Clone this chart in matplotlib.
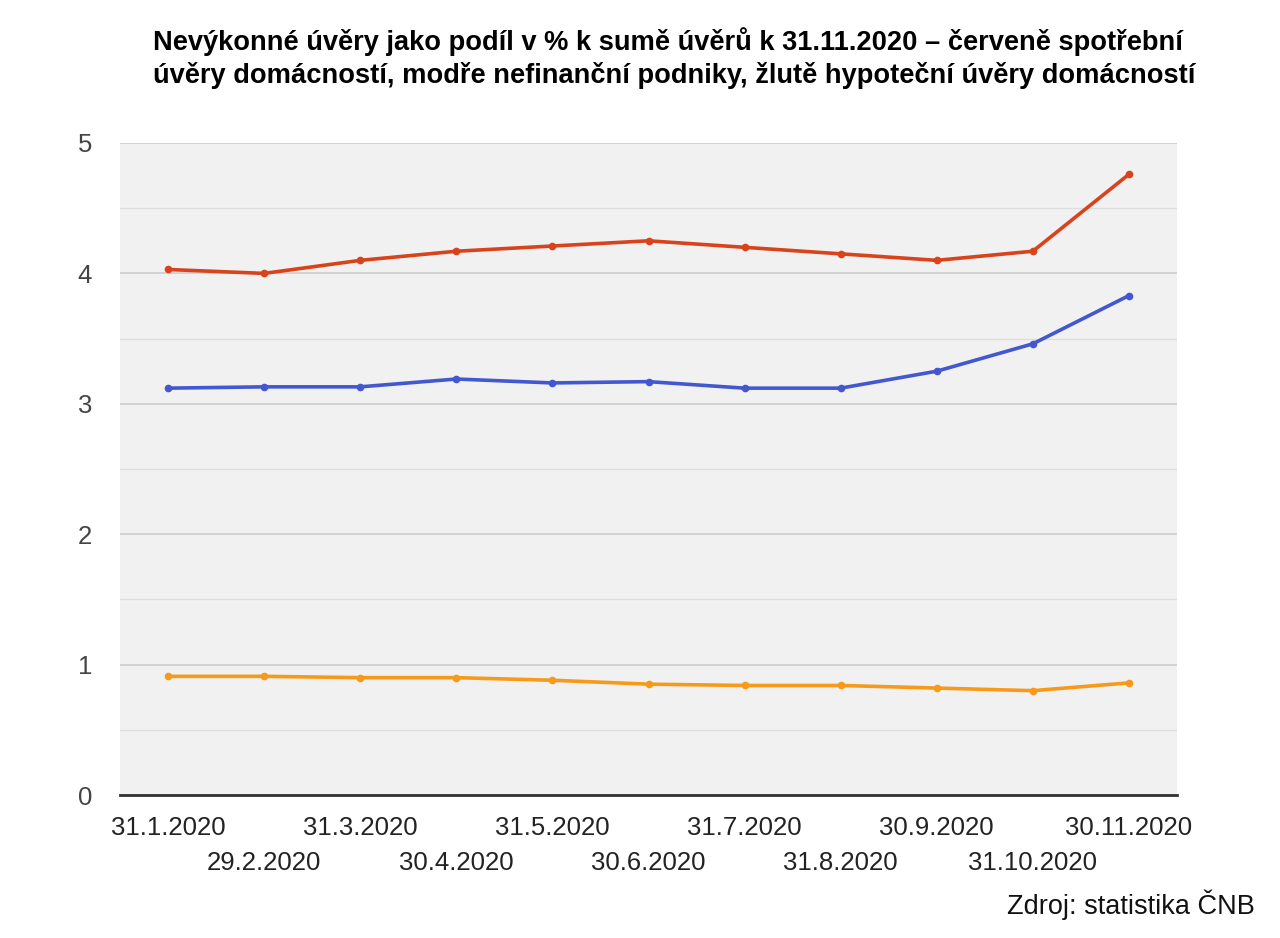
import matplotlib
matplotlib.use("Agg")
import matplotlib.pyplot as plt
from matplotlib.ticker import MultipleLocator, FixedLocator

plt.rcParams['font.family'] = ['Liberation Sans', 'DejaVu Sans']

dates = ["31.1.2020", "29.2.2020", "31.3.2020", "30.4.2020", "31.5.2020", "30.6.2020",
         "31.7.2020", "31.8.2020", "30.9.2020", "31.10.2020", "30.11.2020"]
spotrebni = [4.03, 4.00, 4.10, 4.17, 4.21, 4.25, 4.20, 4.15, 4.10, 4.17, 4.76]
podniky = [3.12, 3.13, 3.13, 3.19, 3.16, 3.17, 3.12, 3.12, 3.25, 3.46, 3.83]
hypotecni = [0.91, 0.91, 0.90, 0.90, 0.88, 0.85, 0.84, 0.84, 0.82, 0.80, 0.86]

title = ("Nevýkonné úvěry jako podíl v % k sumě úvěrů k 31.11.2020 – červeně spotřební\n"
         "úvěry domácností, modře nefinanční podniky, žlutě hypoteční úvěry domácností")

fig = plt.figure(figsize=(12.8, 9.38), dpi=100)
ax = fig.add_axes([120/1280, 1-795/938, (1177-120)/1280, (795-143)/938])
ax.set_facecolor('#f1f1f1')

x = list(range(len(dates)))
for vals, col in [(spotrebni, '#d8431c'), (podniky, '#4358cf'), (hypotecni, '#f79a1a')]:
    ax.plot(x, vals, color=col, lw=2.6, marker='o', ms=4.5, zorder=3)

ax.set_xlim(-0.5, len(dates) - 0.5)
ax.set_ylim(0, 5)
ax.yaxis.set_major_locator(MultipleLocator(1))
ax.yaxis.set_minor_locator(MultipleLocator(0.5))
ax.grid(which='major', axis='y', color='#cccccc', lw=1.2)
ax.grid(which='minor', axis='y', color='#dddddd', lw=1.0)
ax.set_axisbelow(True)
for s in ['top', 'right', 'left']:
    ax.spines[s].set_visible(False)
ax.spines['bottom'].set_color('#333333')
ax.spines['bottom'].set_linewidth(2)

ax.xaxis.set_major_locator(FixedLocator(x[0::2]))
ax.xaxis.set_minor_locator(FixedLocator(x[1::2]))
ax.set_xticklabels(dates[0::2])
ax.set_xticklabels(dates[1::2], minor=True)
ax.tick_params(axis='x', which='major', length=0, pad=15, labelsize=18.5, labelcolor='#222222')
ax.tick_params(axis='x', which='minor', length=0, pad=40, labelsize=18.5, labelcolor='#222222')
ax.tick_params(axis='y', which='both', length=0, pad=20, labelsize=18.5, labelcolor='#444444')

fig.text(153/1280, 1-58/938, title, ha='left', va='center', fontsize=19.6, fontweight='bold',
         linespacing=1.28, multialignment='left')
fig.text(1255/1280, 1-905/938, "Zdroj: statistika ČNB", ha='right', va='center', fontsize=19.5,
         color='#111111')

fig.savefig('out.png', dpi=100)
